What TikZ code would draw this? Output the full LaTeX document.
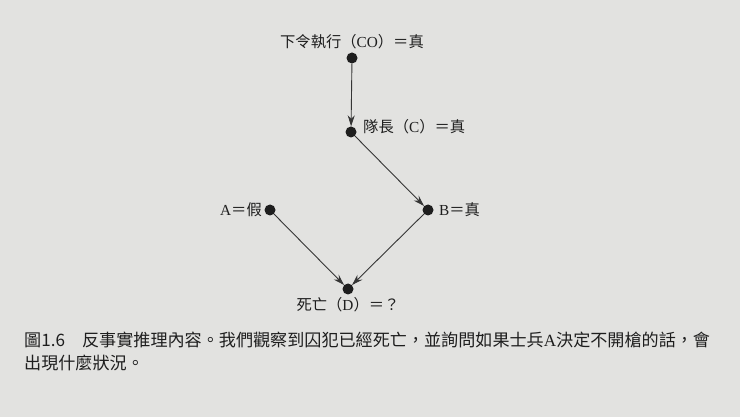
\documentclass[tikz,border=0pt]{standalone}
\usepackage{fontspec}
\setmainfont{Liberation Serif}
\newfontfamily\cjk{Noto Sans CJK TC}
\usetikzlibrary{arrows.meta}
\definecolor{paper}{RGB}{226,226,224}
\definecolor{ink}{RGB}{30,30,30}
\tikzset{
  dot/.style={circle,fill=ink,inner sep=0pt,minimum size=11pt},
  arr/.style={draw=ink!90,line width=0.9pt,-{Stealth[length=11pt,width=7pt]}},
  lbl/.style={text=ink,inner sep=0pt,font=\fontsize{15.3}{18}\selectfont},
  captxt/.style={text=ink,inner sep=0pt,anchor=west,font=\fontsize{17.1}{20}\selectfont}
}
\begin{document}
\begin{tikzpicture}[x=1pt,y=-1pt]
\fill[paper] (0,0) rectangle (740,417);
\useasboundingbox (0,0) rectangle (740,417);
\node[dot] (co) at (352,58) {};
\node[dot] (c) at (351,132) {};
\node[dot] (b) at (428,210) {};
\node[dot] (a) at (270,210) {};
\node[dot] (d) at (348,289) {};
\draw[arr] (co) -- (c);
\draw[arr] (c) -- (b);
\draw[arr] (a) -- (d);
\draw[arr] (b) -- (d);
\node[lbl] (lco) at (352,42) {{\cjk 下令執行（}CO{\cjk ）＝真}};
\node[lbl,anchor=west] (lc) at (363,127) {{\cjk 隊長（}C{\cjk ）＝真}};
\node[lbl,anchor=east] (la) at (262,210) {A{\cjk ＝假}};
\node[lbl,anchor=west] (lb) at (439,210) {B{\cjk ＝真}};
\node[lbl] (ld) at (348,305) {{\cjk 死亡（}D{\cjk ）＝？}};
\node[captxt] (cap1) at (24,340) {{\cjk 圖1.6\quad 反事實推理內容。我們觀察到囚犯已經死亡，並詢問如果士兵}A{\cjk 決定不開槍的話，會}};
\node[captxt] (cap2) at (24,363) {{\cjk 出現什麼狀況。}};
\end{tikzpicture}
\end{document}
